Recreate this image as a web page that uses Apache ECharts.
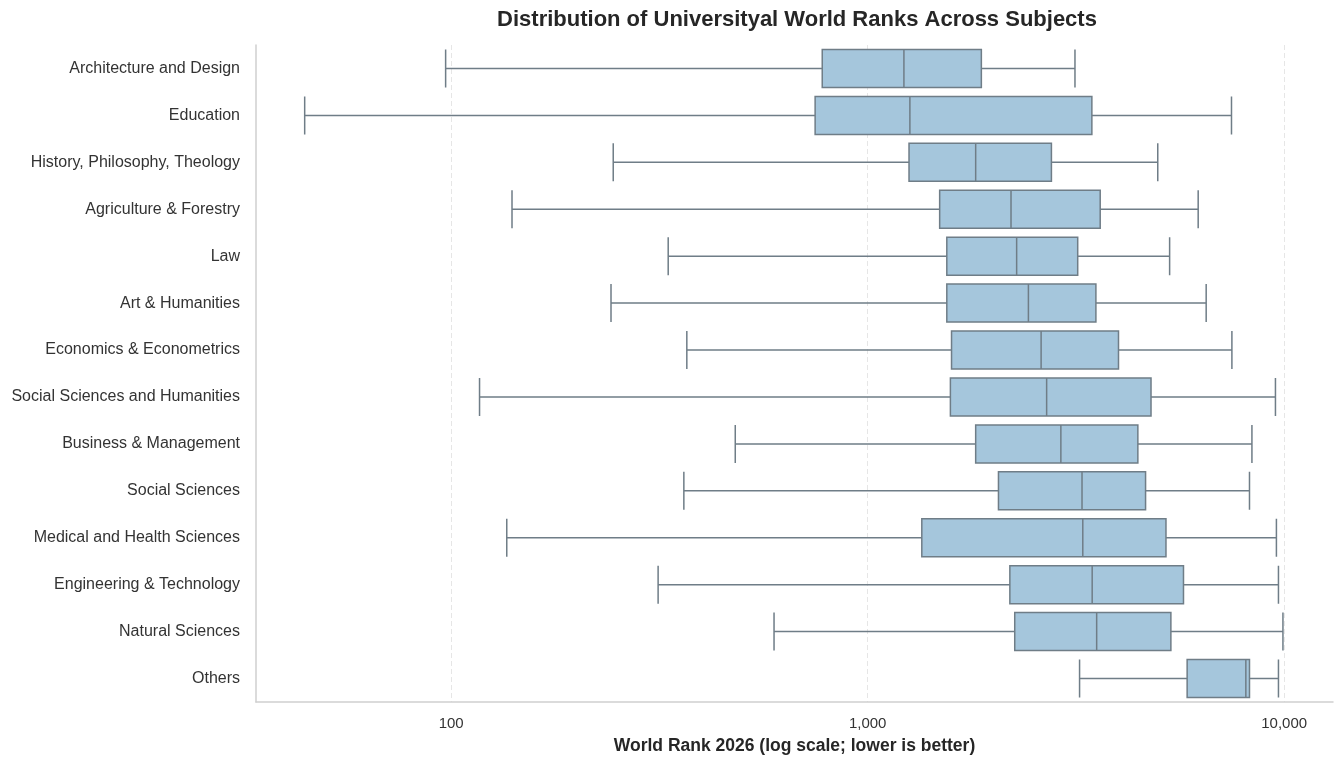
<!DOCTYPE html>
<html>
<head>
<meta charset="utf-8">
<script src="https://cdn.jsdelivr.net/npm/echarts@6/dist/echarts.min.js"></script>
<style>
html,body{margin:0;padding:0;background:#fff;}
#chart{width:1336px;height:760px;}
</style>
</head>
<body>
<div id="chart"></div>
<script>
const categories = [
  "Architecture and Design",
  "Education",
  "History, Philosophy, Theology",
  "Agriculture & Forestry",
  "Law",
  "Art & Humanities",
  "Economics & Econometrics",
  "Social Sciences and Humanities",
  "Business & Management",
  "Social Sciences",
  "Medical and Health Sciences",
  "Engineering & Technology",
  "Natural Sciences",
  "Others"
];
const whiskerLow  = [97, 44.5, 245, 140, 332, 242, 368, 117, 481, 362, 136, 314, 596, 3227];
const q1Values    = [778, 748, 1257, 1489, 1549, 1549, 1590, 1580, 1817, 2061, 1349, 2195, 2255, 5849];
const medians     = [1222, 1263, 1817, 2209, 2279, 2432, 2609, 2690, 2910, 3271, 3285, 3460, 3547, 8091];
const q3Values    = [1875, 3454, 2762, 3617, 3194, 3532, 4002, 4790, 4454, 4648, 5203, 5732, 5346, 8256];
const whiskerHigh = [3146, 7474, 4972, 6217, 5309, 6498, 7491, 9530, 8368, 8256, 9581, 9690, 9933, 9690];
const xTickValues = [100, 1000, 10000];

const boxData = categories.map((c, i) => [whiskerLow[i], q1Values[i], medians[i], q3Values[i], whiskerHigh[i]]);

const chart = echarts.init(document.getElementById('chart'), null, {renderer: 'canvas'});
chart.setOption({
  animation: false,
  backgroundColor: '#ffffff',
  textStyle: {fontFamily: 'Liberation Sans, Arial, sans-serif'},
  title: {
    text: 'Distribution of Universityal World Ranks Across Subjects',
    left: 792, top: 4, textAlign: 'center',
    textStyle: {fontSize: 22, fontWeight: 'bold', color: '#262626', fontFamily: 'Liberation Sans, Arial, sans-serif'}
  },
  grid: {left: 256, right: 3, top: 45, bottom: 58, containLabel: false},
  xAxis: {
    type: 'log', logBase: 10, min: 34, max: 13100,
    name: 'World Rank 2026 (log scale; lower is better)',
    nameLocation: 'middle', nameGap: 35,
    nameTextStyle: {fontSize: 17.5, fontWeight: 'bold', color: '#262626'},
    axisLine: {show: true, lineStyle: {color: '#cfcfcf', width: 1.5}},
    axisTick: {show: false},
    axisLabel: {
      fontSize: 15, color: '#333', margin: 14,
      showMinLabel: false, showMaxLabel: false,
      formatter: v => xTickValues.some(t => Math.abs(t - v) / t < 1e-6) ? Math.round(v).toLocaleString('en-US') : ''
    },
    splitLine: {show: true, showMinLine: false, showMaxLine: false, lineStyle: {color: '#e6e6e6', type: [5, 3], width: 1}}
  },
  yAxis: {
    type: 'category', data: categories, inverse: true,
    axisLine: {show: true, lineStyle: {color: '#cfcfcf', width: 1.5}},
    axisTick: {show: false},
    axisLabel: {fontSize: 16, color: '#333', margin: 16},
    splitLine: {show: false}
  },
  series: [{
    type: 'boxplot',
    layout: 'horizontal',
    data: boxData,
    boxWidth: [38, 38],
    itemStyle: {color: '#a5c6dc', borderColor: '#6f7d87', borderWidth: 1.5},
    emphasis: {disabled: true}
  }]
});
</script>
</body>
</html>
